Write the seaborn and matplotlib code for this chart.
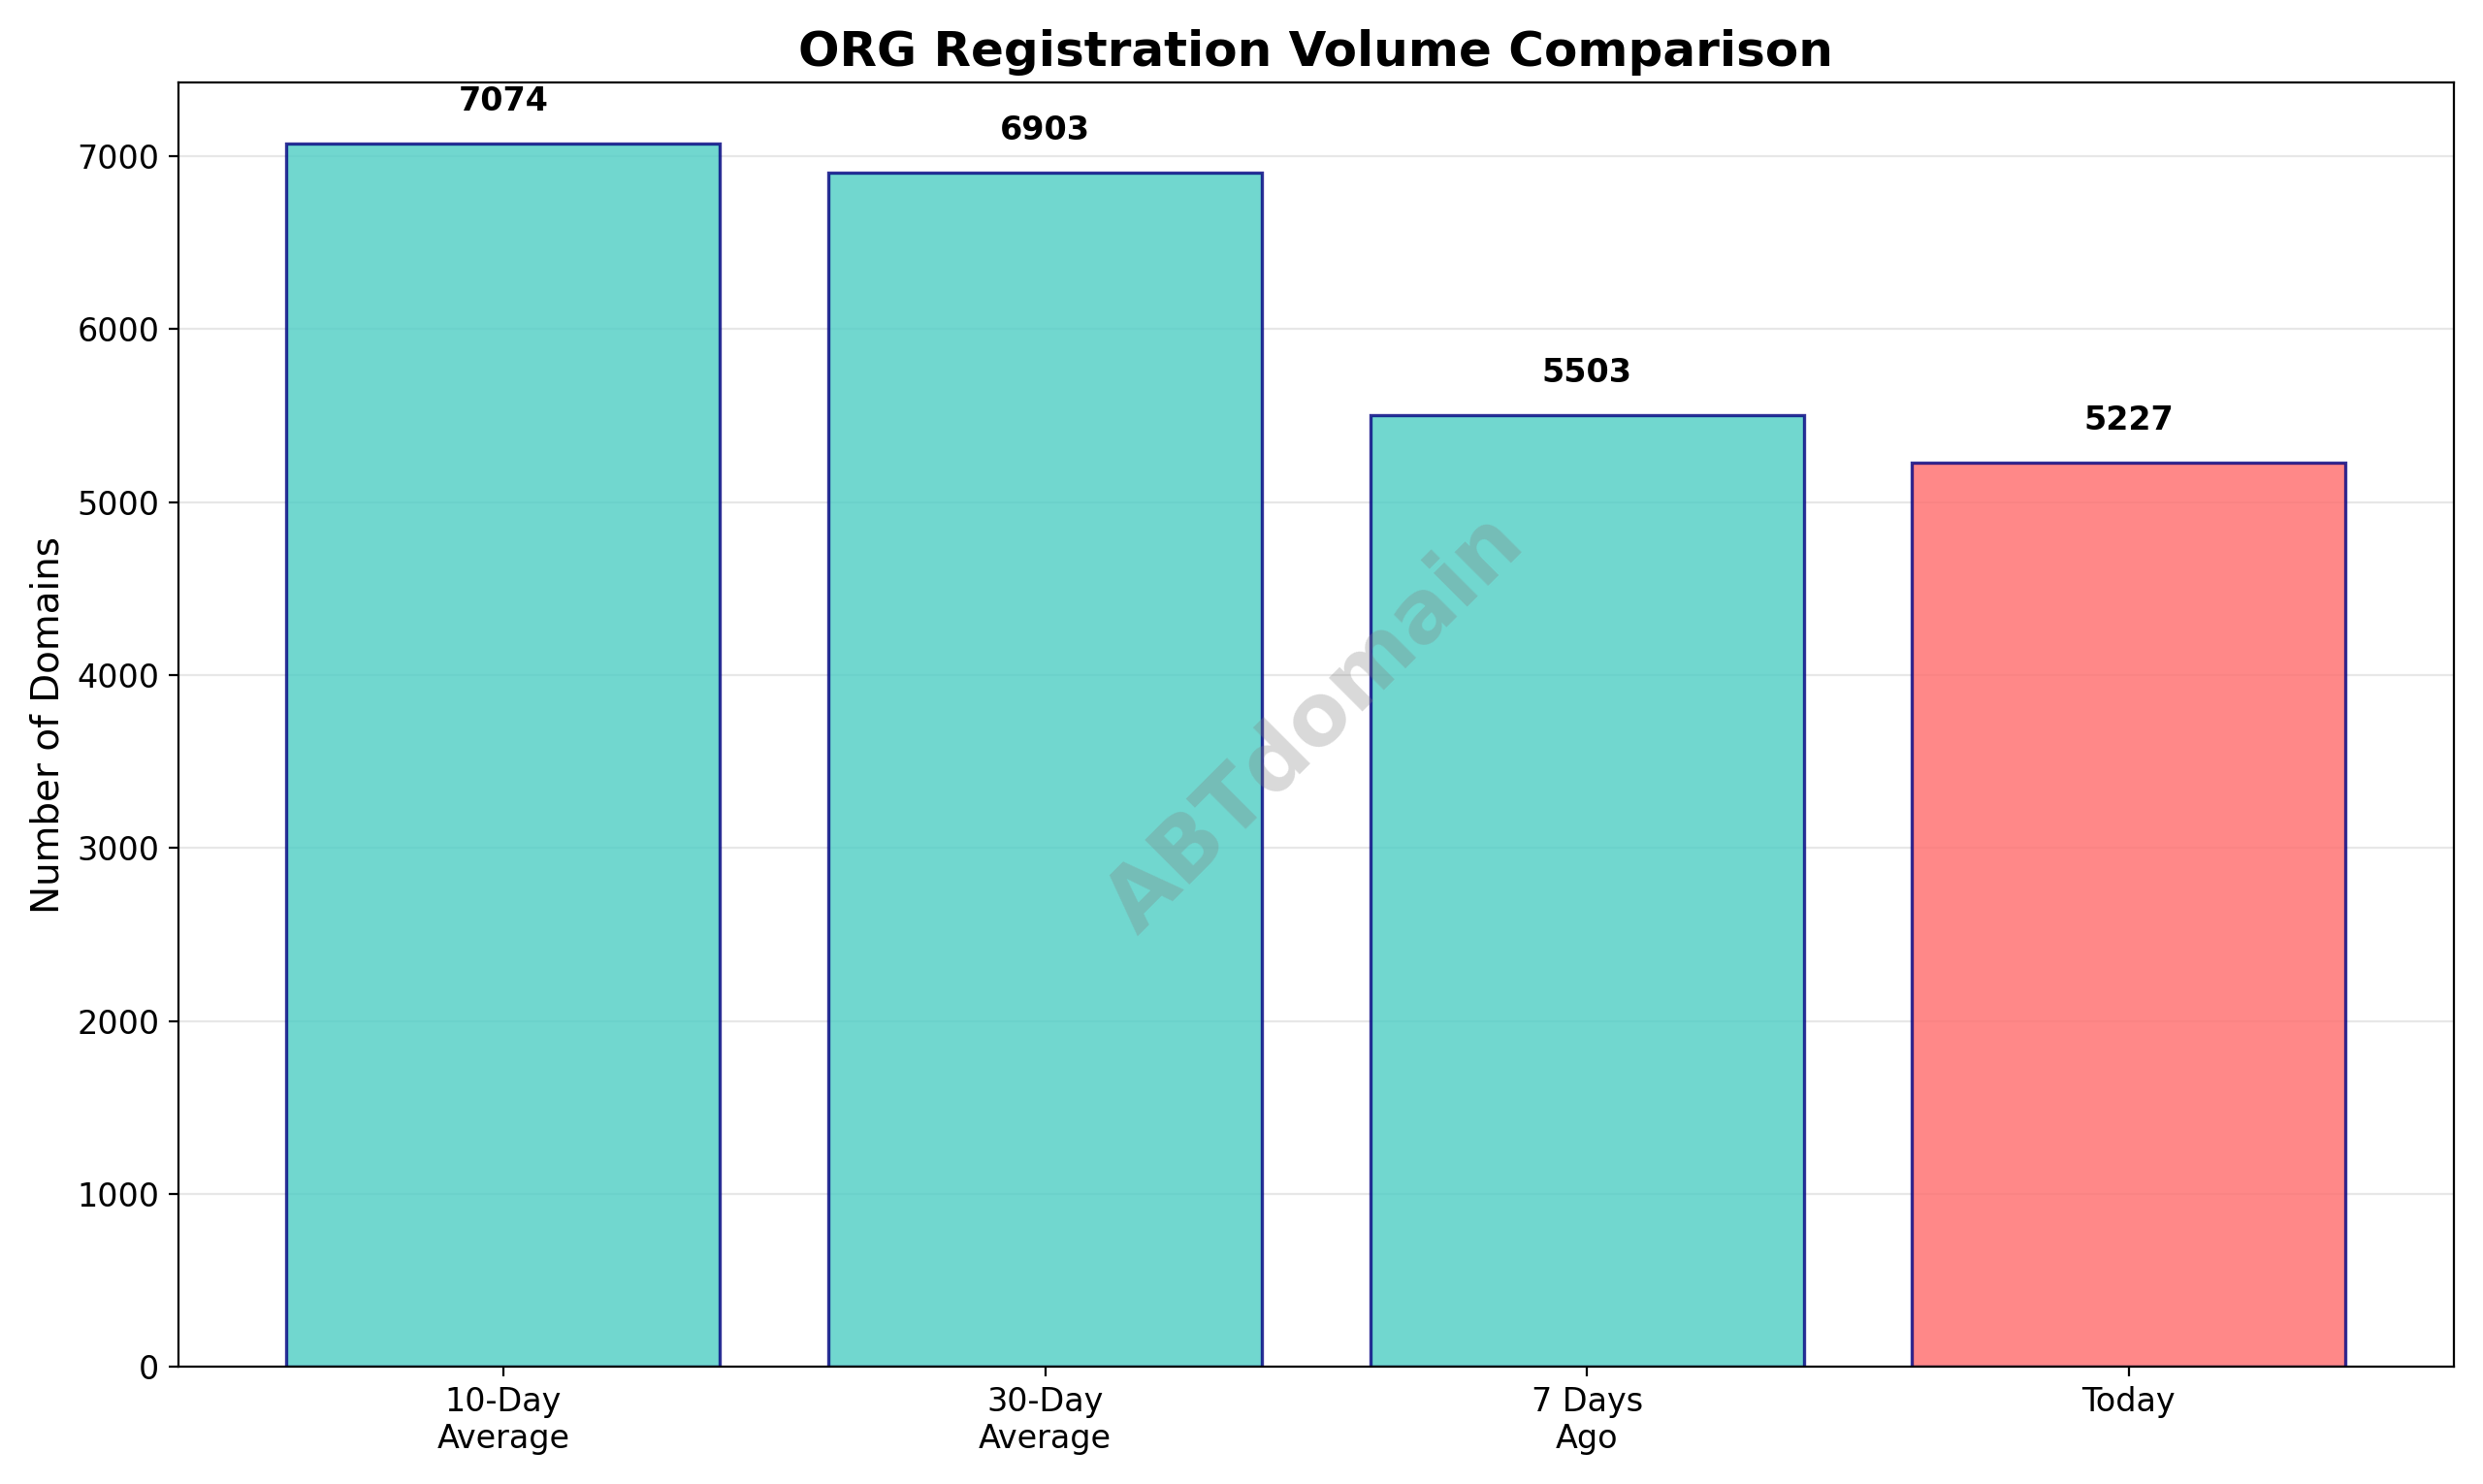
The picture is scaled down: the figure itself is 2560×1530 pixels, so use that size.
import matplotlib
matplotlib.use("Agg")
import matplotlib.pyplot as plt
import seaborn as sns
import pandas as pd

categories = ['10-Day\nAverage', '30-Day\nAverage', '7 Days\nAgo', 'Today']
values = [7074, 6903, 5503, 5227]
colors = ['#4ECDC4', '#4ECDC4', '#4ECDC4', '#FF6B6B']

df = pd.DataFrame({'period': categories, 'count': values})

fig, ax = plt.subplots(figsize=(12.8, 7.65), dpi=200)
sns.barplot(data=df, x='period', y='count', hue='period', palette=colors,
            legend=False, ax=ax, alpha=0.8, edgecolor='navy', linewidth=1.2,
            width=0.8, saturation=1)

for i, v in enumerate(values):
    ax.text(i, v + 150, str(v), ha='center', va='bottom', fontweight='bold', fontsize=12)

ax.set_title('ORG Registration Volume Comparison', fontsize=18, fontweight='bold')
ax.set_ylabel('Number of Domains', fontsize=14)
ax.set_xlabel('')
ax.tick_params(labelsize=12)
ax.grid(axis='y', alpha=0.3)
ax.set_axisbelow(True)
ax.set_ylim(0, 7427)
ax.set_xlim(-0.6, 3.6)

ax.text(0.5, 0.5, 'ABTdomain', fontsize=32, color='gray', alpha=0.3,
        ha='center', va='center', rotation=45, fontweight='bold',
        transform=ax.transAxes)

plt.tight_layout()
plt.savefig('out.png', dpi=200)
